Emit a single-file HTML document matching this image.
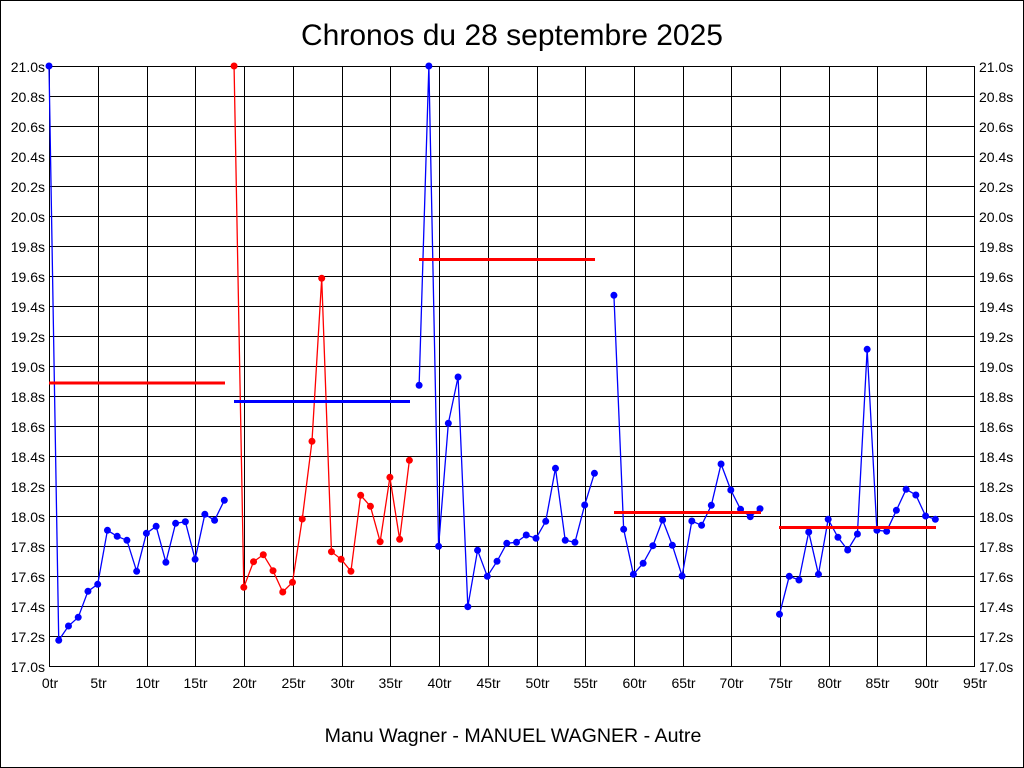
<!DOCTYPE html>
<html><head><meta charset="utf-8"><style>
html,body{margin:0;padding:0;background:#fff;}
svg{display:block;}
text{font-family:"Liberation Sans",Arial,sans-serif;fill:#000;}
.yl{font-size:14px;}
.xl{font-size:14px;text-anchor:middle;}
</style></head><body>
<svg width="1024" height="768" viewBox="0 0 1024 768" xmlns="http://www.w3.org/2000/svg">
<rect x="0" y="0" width="1024" height="768" fill="#fff"/>
<rect x="0.5" y="0.5" width="1023" height="767" fill="none" stroke="#000" stroke-width="1"/>
<text x="512" y="45" font-size="30" text-anchor="middle">Chronos du 28 septembre 2025</text>
<text x="513" y="742" font-size="19.6" text-anchor="middle">Manu Wagner - MANUEL WAGNER - Autre</text>

<g stroke="#000" stroke-width="1" shape-rendering="crispEdges" fill="none">
<rect x="49.5" y="66.5" width="925" height="600"/>
<path d="M98.5 66V667M147.5 66V667M195.5 66V667M244.5 66V667M293.5 66V667M342.5 66V667M390.5 66V667M439.5 66V667M488.5 66V667M537.5 66V667M585.5 66V667M634.5 66V667M683.5 66V667M731.5 66V667M780.5 66V667M829.5 66V667M877.5 66V667M926.5 66V667"/>
<path d="M49 96.5H975M49 126.5H975M49 156.5H975M49 186.5H975M49 216.5H975M49 246.5H975M49 276.5H975M49 306.5H975M49 336.5H975M49 366.5H975M49 396.5H975M49 426.5H975M49 456.5H975M49 486.5H975M49 516.5H975M49 546.5H975M49 576.5H975M49 606.5H975M49 636.5H975"/>
</g>

<g class="yl" text-anchor="end">
<text x="45" y="72">21.0s</text><text x="45" y="102">20.8s</text><text x="45" y="132">20.6s</text><text x="45" y="162">20.4s</text><text x="45" y="192">20.2s</text><text x="45" y="222">20.0s</text><text x="45" y="252">19.8s</text><text x="45" y="282">19.6s</text><text x="45" y="312">19.4s</text><text x="45" y="342">19.2s</text><text x="45" y="372">19.0s</text><text x="45" y="402">18.8s</text><text x="45" y="432">18.6s</text><text x="45" y="462">18.4s</text><text x="45" y="492">18.2s</text><text x="45" y="522">18.0s</text><text x="45" y="552">17.8s</text><text x="45" y="582">17.6s</text><text x="45" y="612">17.4s</text><text x="45" y="642">17.2s</text><text x="45" y="672">17.0s</text>
</g>
<g class="yl" text-anchor="start">
<text x="979" y="72">21.0s</text><text x="979" y="102">20.8s</text><text x="979" y="132">20.6s</text><text x="979" y="162">20.4s</text><text x="979" y="192">20.2s</text><text x="979" y="222">20.0s</text><text x="979" y="252">19.8s</text><text x="979" y="282">19.6s</text><text x="979" y="312">19.4s</text><text x="979" y="342">19.2s</text><text x="979" y="372">19.0s</text><text x="979" y="402">18.8s</text><text x="979" y="432">18.6s</text><text x="979" y="462">18.4s</text><text x="979" y="492">18.2s</text><text x="979" y="522">18.0s</text><text x="979" y="552">17.8s</text><text x="979" y="582">17.6s</text><text x="979" y="612">17.4s</text><text x="979" y="642">17.2s</text><text x="979" y="672">17.0s</text>
</g>
<g class="xl">
<text x="50" y="688">0tr</text><text x="98.5" y="688">5tr</text><text x="147.5" y="688">10tr</text><text x="195.5" y="688">15tr</text><text x="244.5" y="688">20tr</text><text x="293.5" y="688">25tr</text><text x="342.5" y="688">30tr</text><text x="390.5" y="688">35tr</text><text x="439.5" y="688">40tr</text><text x="488.5" y="688">45tr</text><text x="537.5" y="688">50tr</text><text x="585.5" y="688">55tr</text><text x="634.5" y="688">60tr</text><text x="683.5" y="688">65tr</text><text x="731.5" y="688">70tr</text><text x="780.5" y="688">75tr</text><text x="829.5" y="688">80tr</text><text x="877.5" y="688">85tr</text><text x="926.5" y="688">90tr</text><text x="975" y="688">95tr</text>
</g>

<!-- Series 1 (blue) -->
<polyline fill="none" stroke="#0000ff" stroke-width="1.3" points="49,66 58.74,640.3 68.48,626 78.22,617.3 87.96,591.3 97.7,584.3 107.44,530.3 117.18,536.3 126.92,540.3 136.66,571.3 146.4,533.3 156.14,526.3 165.88,562.3 175.62,523.3 185.36,521.7 195.1,559.3 204.84,514.3 214.58,520.3 224.32,500.3"/>
<g fill="#0000ff">
<circle cx="49" cy="66" r="3.5"/><circle cx="58.74" cy="640.3" r="3.5"/><circle cx="68.48" cy="626" r="3.5"/><circle cx="78.22" cy="617.3" r="3.5"/><circle cx="87.96" cy="591.3" r="3.5"/><circle cx="97.7" cy="584.3" r="3.5"/><circle cx="107.44" cy="530.3" r="3.5"/><circle cx="117.18" cy="536.3" r="3.5"/><circle cx="126.92" cy="540.3" r="3.5"/><circle cx="136.66" cy="571.3" r="3.5"/><circle cx="146.4" cy="533.3" r="3.5"/><circle cx="156.14" cy="526.3" r="3.5"/><circle cx="165.88" cy="562.3" r="3.5"/><circle cx="175.62" cy="523.3" r="3.5"/><circle cx="185.36" cy="521.7" r="3.5"/><circle cx="195.1" cy="559.3" r="3.5"/><circle cx="204.84" cy="514.3" r="3.5"/><circle cx="214.58" cy="520.3" r="3.5"/><circle cx="224.32" cy="500.3" r="3.5"/>
</g>

<!-- Series 2 (red) -->
<polyline fill="none" stroke="#ff0000" stroke-width="1.3" points="234.06,66 243.8,587.3 253.54,561.7 263.28,554.7 273.02,570.7 282.76,592 292.5,582.3 302.24,519 311.98,441.3 321.72,278.3 331.46,551.7 341.2,559.3 350.94,571.3 360.68,495.3 370.42,506.3 380.16,541.7 389.9,477.3 399.64,539.3 409.38,460.3"/>
<g fill="#ff0000">
<circle cx="234.06" cy="66" r="3.5"/><circle cx="243.8" cy="587.3" r="3.5"/><circle cx="253.54" cy="561.7" r="3.5"/><circle cx="263.28" cy="554.7" r="3.5"/><circle cx="273.02" cy="570.7" r="3.5"/><circle cx="282.76" cy="592" r="3.5"/><circle cx="292.5" cy="582.3" r="3.5"/><circle cx="302.24" cy="519" r="3.5"/><circle cx="311.98" cy="441.3" r="3.5"/><circle cx="321.72" cy="278.3" r="3.5"/><circle cx="331.46" cy="551.7" r="3.5"/><circle cx="341.2" cy="559.3" r="3.5"/><circle cx="350.94" cy="571.3" r="3.5"/><circle cx="360.68" cy="495.3" r="3.5"/><circle cx="370.42" cy="506.3" r="3.5"/><circle cx="380.16" cy="541.7" r="3.5"/><circle cx="389.9" cy="477.3" r="3.5"/><circle cx="399.64" cy="539.3" r="3.5"/><circle cx="409.38" cy="460.3" r="3.5"/>
</g>

<!-- Series 3 (blue) -->
<polyline fill="none" stroke="#0000ff" stroke-width="1.3" points="419.12,385.3 428.86,66 438.6,546.3 448.34,423.3 458.08,377 467.82,606.7 477.56,550.3 487.3,576.3 497.04,561.3 506.78,543.3 516.52,542.3 526.26,535 536,538.3 545.74,521.3 555.48,468.3 565.22,540.3 574.96,542.3 584.7,505 594.44,473.3"/>
<g fill="#0000ff">
<circle cx="419.12" cy="385.3" r="3.5"/><circle cx="428.86" cy="66" r="3.5"/><circle cx="438.6" cy="546.3" r="3.5"/><circle cx="448.34" cy="423.3" r="3.5"/><circle cx="458.08" cy="377" r="3.5"/><circle cx="467.82" cy="606.7" r="3.5"/><circle cx="477.56" cy="550.3" r="3.5"/><circle cx="487.3" cy="576.3" r="3.5"/><circle cx="497.04" cy="561.3" r="3.5"/><circle cx="506.78" cy="543.3" r="3.5"/><circle cx="516.52" cy="542.3" r="3.5"/><circle cx="526.26" cy="535" r="3.5"/><circle cx="536" cy="538.3" r="3.5"/><circle cx="545.74" cy="521.3" r="3.5"/><circle cx="555.48" cy="468.3" r="3.5"/><circle cx="565.22" cy="540.3" r="3.5"/><circle cx="574.96" cy="542.3" r="3.5"/><circle cx="584.7" cy="505" r="3.5"/><circle cx="594.44" cy="473.3" r="3.5"/>
</g>

<!-- Series 4 (blue) -->
<polyline fill="none" stroke="#0000ff" stroke-width="1.3" points="613.92,295.3 623.66,529.3 633.4,574.3 643.14,563.3 652.88,545.7 662.62,520 672.36,545.3 682.1,576 691.84,521 701.58,525.3 711.32,505.3 721.06,464 730.8,490 740.54,509.3 750.28,516.7 760.02,508.7"/>
<g fill="#0000ff">
<circle cx="613.92" cy="295.3" r="3.5"/><circle cx="623.66" cy="529.3" r="3.5"/><circle cx="633.4" cy="574.3" r="3.5"/><circle cx="643.14" cy="563.3" r="3.5"/><circle cx="652.88" cy="545.7" r="3.5"/><circle cx="662.62" cy="520" r="3.5"/><circle cx="672.36" cy="545.3" r="3.5"/><circle cx="682.1" cy="576" r="3.5"/><circle cx="691.84" cy="521" r="3.5"/><circle cx="701.58" cy="525.3" r="3.5"/><circle cx="711.32" cy="505.3" r="3.5"/><circle cx="721.06" cy="464" r="3.5"/><circle cx="730.8" cy="490" r="3.5"/><circle cx="740.54" cy="509.3" r="3.5"/><circle cx="750.28" cy="516.7" r="3.5"/><circle cx="760.02" cy="508.7" r="3.5"/>
</g>

<!-- Series 5 (blue) -->
<polyline fill="none" stroke="#0000ff" stroke-width="1.3" points="779.5,614.3 789.24,576.3 798.98,580 808.72,532 818.46,574.3 828.2,519.3 837.94,537.3 847.68,550 857.42,534 867.16,349.3 876.9,530.3 886.64,531.3 896.38,510.3 906.12,489.3 915.86,495 925.6,516 935.34,519.3"/>
<g fill="#0000ff">
<circle cx="779.5" cy="614.3" r="3.5"/><circle cx="789.24" cy="576.3" r="3.5"/><circle cx="798.98" cy="580" r="3.5"/><circle cx="808.72" cy="532" r="3.5"/><circle cx="818.46" cy="574.3" r="3.5"/><circle cx="828.2" cy="519.3" r="3.5"/><circle cx="837.94" cy="537.3" r="3.5"/><circle cx="847.68" cy="550" r="3.5"/><circle cx="857.42" cy="534" r="3.5"/><circle cx="867.16" cy="349.3" r="3.5"/><circle cx="876.9" cy="530.3" r="3.5"/><circle cx="886.64" cy="531.3" r="3.5"/><circle cx="896.38" cy="510.3" r="3.5"/><circle cx="906.12" cy="489.3" r="3.5"/><circle cx="915.86" cy="495" r="3.5"/><circle cx="925.6" cy="516" r="3.5"/><circle cx="935.34" cy="519.3" r="3.5"/>
</g>

<!-- Mean lines -->
<g stroke-width="3" shape-rendering="crispEdges">
<line x1="49" y1="383" x2="225" y2="383" stroke="#ff0000"/>
<line x1="234" y1="401.5" x2="410" y2="401.5" stroke="#0000ff"/>
<line x1="419" y1="259.5" x2="595" y2="259.5" stroke="#ff0000"/>
<line x1="614" y1="512.5" x2="761" y2="512.5" stroke="#ff0000"/>
<line x1="779" y1="527.5" x2="936" y2="527.5" stroke="#ff0000"/>
</g>
</svg>
</body></html>
